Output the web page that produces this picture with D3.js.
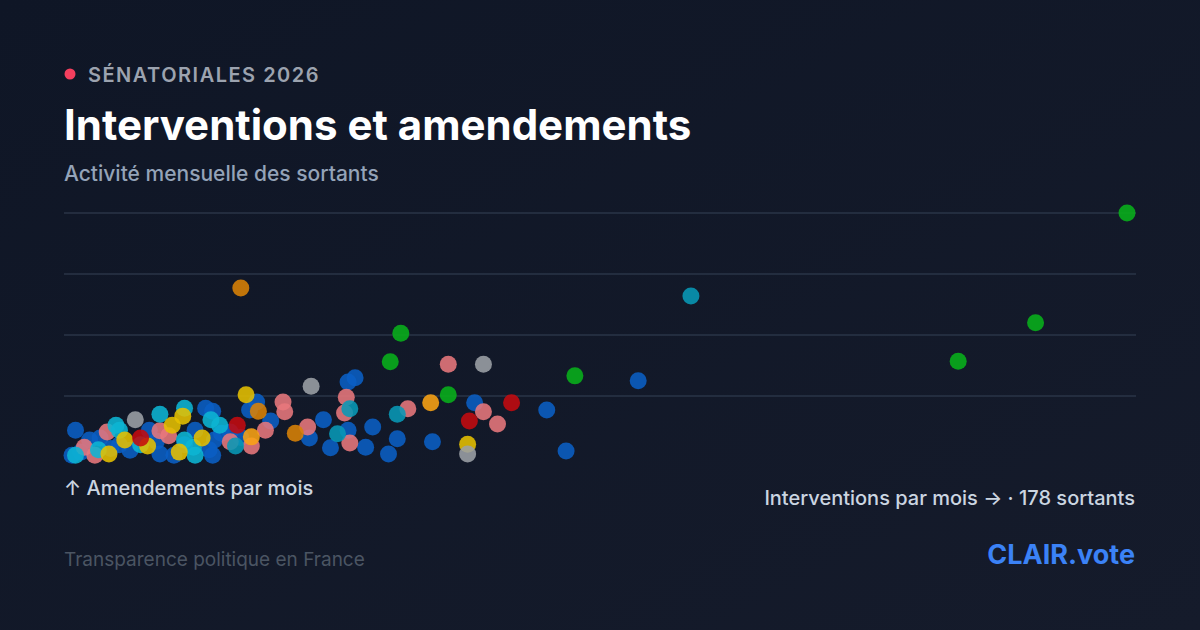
<!DOCTYPE html>
<html><head><meta charset="utf-8">
<script src="https://cdn.jsdelivr.net/npm/d3@7"></script>
<style>
body{margin:0;width:1200px;height:630px;overflow:hidden;font-family:Inter,"Noto Sans",sans-serif;}
</style></head><body>
<script>
// [interventions par mois, amendements par mois]
const vert = [[60,40],[54.8,22],[50.4,15.7],[28.6,13.3],[21.4,10.2],[18.1,15.6],[18.7,20.3]];
const bleuCanard = [[35.2,26.4],[18.5,7],[15.8,7.9],[15.1,3.8],[9.3,1.8]];
const orangeFonce = [[9.6,27.7],[12.7,3.9],[10.6,7.5]];
const orange = [[20.4,8.9],[10.2,3.3]];
const gris = [[23.4,15.2],[13.6,11.6],[22.5,0.5],[3.6,6.1]];
const rose = [[21.4,15.2],[15.6,9.8],[19.1,7.9],[23.4,7.4],[24.2,5.4],[12,9],[12.1,7.4],[15.5,7.2],[13.4,4.9],[11,4.4],[10.2,1.8],[15.8,2.3],[2,4.1],[1.3,0.3],[5,4.3],[0.7,1.6],[5.5,3.5],[9,2.5]];
const rouge = [[25,8.9],[22.6,5.9],[9.4,5.2],[3.9,3.1]];
const bleu = [[32.2,12.5],[27,7.7],[28.1,1],[22.9,8.9],[20.5,2.5],[18.5,3],[18,0.5],[17.1,4.9],[16.7,1.6],[16.1,13],[15.7,12.3],[15.7,4.4],[14.7,1.5],[14.3,6.1],[13.5,3.1],[10.5,9],[10.1,7.7],[11.3,5.9],[8.5,3.9],[7.6,8],[8,7.5],[8,0.3],[5,0.5],[0.2,4.4],[0,0.3],[0.5,0.8],[1.6,3.1],[2.7,2],[4.4,4.4],[6.4,2],[8.1,2.8],[9,4.1],[7,4.4],[3.3,1.1],[5.8,0.3],[1,2.8],[2.2,1.4],[4.8,2.6],[7.8,1.2],[9.6,3.2]];
const cyan = [[6.4,8],[5,7],[2.5,5.2],[6.4,2.8],[7,0.3],[2.7,4.4],[7.9,6.1],[3.9,2],[0.2,0.3],[8.4,5.2],[6.9,1.6],[1.5,1.2]];
const jaune = [[9.9,10.2],[22.5,2.1],[6.3,6.7],[2.1,0.5],[4.3,1.8],[7.4,3.1],[3,2.8],[6.1,0.8],[5.7,5.2]];
const grille = [10,20,30,40];

const series = [
  [bleu,"#0a5fc4"],[rose,"#e8777c"],[cyan,"#0cb5d4"],[jaune,"#e6c000"],[orangeFonce,"#d98206"],
  [orange,"#fba313"],[bleuCanard,"#0899b6"],[gris,"#9ca0a6"],[rouge,"#c40a0f"],[vert,"#08b01a"]
];

const W = 1200, H = 630;
const svg = d3.select("body").append("svg").attr("width", W).attr("height", H);
const defs = svg.append("defs");
const g = defs.append("linearGradient").attr("id","bg").attr("x1","0").attr("y1","0").attr("x2","1").attr("y2","1");
g.append("stop").attr("offset","0").attr("stop-color","#0f1626");
g.append("stop").attr("offset","1").attr("stop-color","#151b2b");
svg.append("rect").attr("width",W).attr("height",H).attr("fill","url(#bg)");

svg.append("circle").attr("cx",70).attr("cy",74).attr("r",5.5).attr("fill","#f43f5e");
svg.append("text").attr("x",88).attr("y",82).text("SÉNATORIALES 2026")
  .attr("fill","#9ca3af").attr("font-size",20).attr("font-weight",600).attr("letter-spacing",1.5);
svg.append("text").attr("x",64).attr("y",140).text("Interventions et amendements")
  .attr("fill","#ffffff").attr("font-size",42).attr("font-weight",700);
svg.append("text").attr("x",64).attr("y",181).text("Activité mensuelle des sortants")
  .attr("fill","#94a3b8").attr("font-size",21).attr("font-weight",500);

const x = d3.scaleLinear().domain([0,60]).range([72,1127]);
const y = d3.scaleLinear().domain([0,40]).range([457,213]);

svg.append("g").selectAll("line").data(grille).join("line")
  .attr("x1",64).attr("x2",1136).attr("y1",d=>y(d)).attr("y2",d=>y(d))
  .attr("stroke","#2a3447").attr("stroke-width",1.5);

series.forEach(([pts,col]) => {
  svg.append("g").selectAll("circle").data(pts).join("circle")
    .attr("cx",d=>x(d[0])).attr("cy",d=>y(d[1])).attr("r",8.5)
    .attr("fill",col).attr("fill-opacity",0.88);
});

svg.append("text").attr("x",64).attr("y",495).text("↑ Amendements par mois")
  .attr("fill","#cbd5e1").attr("font-size",20).attr("font-weight",500);
svg.append("text").attr("x",1135).attr("y",505).attr("text-anchor","end")
  .text("Interventions par mois → · 178 sortants")
  .attr("fill","#cbd5e1").attr("font-size",20).attr("font-weight",500);
svg.append("text").attr("x",64).attr("y",566).text("Transparence politique en France")
  .attr("fill","#4b5563").attr("font-size",19);
svg.append("text").attr("x",1135).attr("y",564).attr("text-anchor","end").text("CLAIR.vote")
  .attr("fill","#3b82f6").attr("font-size",27).attr("font-weight",700);
</script>
</body></html>
